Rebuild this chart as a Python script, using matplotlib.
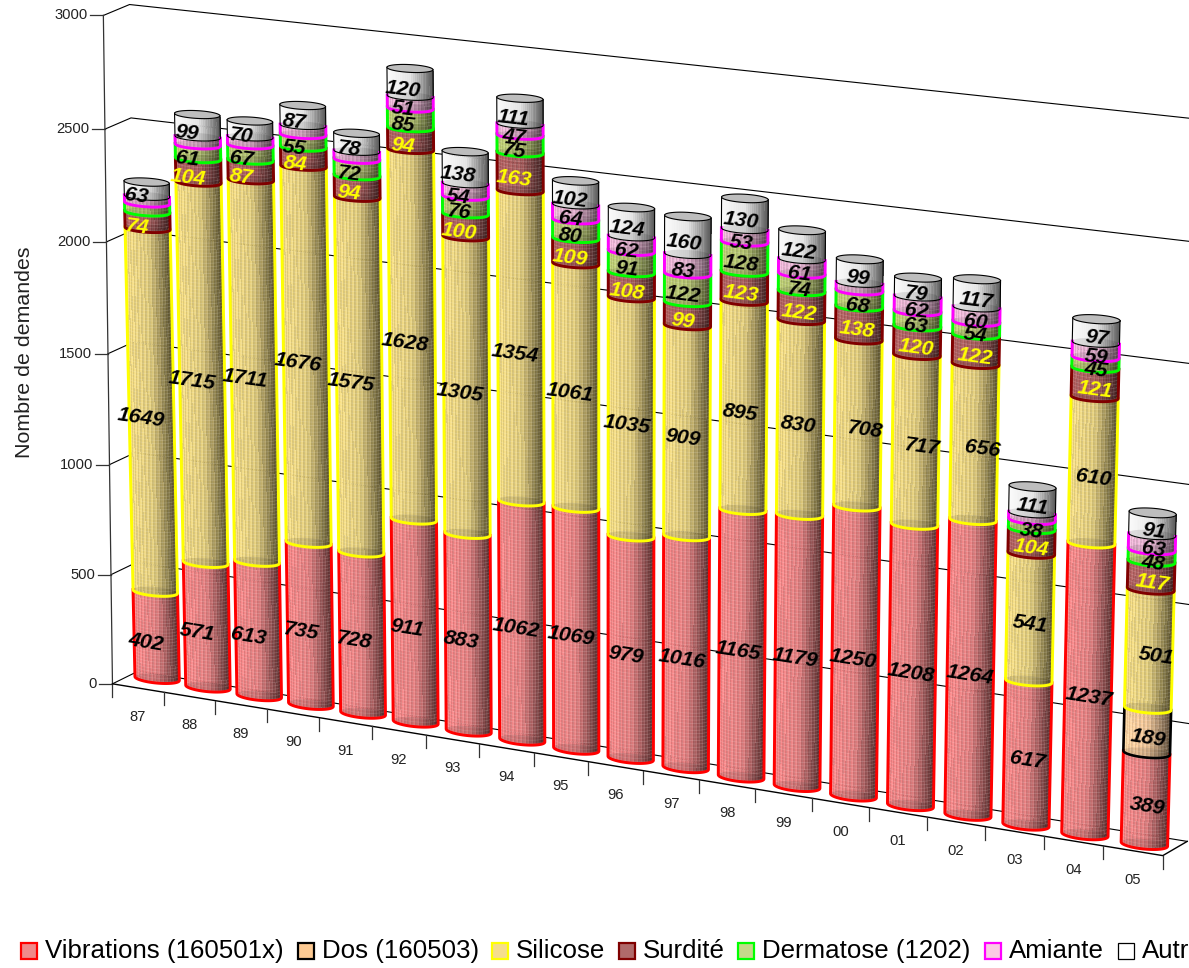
import numpy as np
import matplotlib
matplotlib.use("Agg")
import matplotlib.pyplot as plt
from matplotlib.collections import PolyCollection, LineCollection
from matplotlib.patches import Polygon, Rectangle

plt.rcParams['font.family'] = ['Liberation Sans', 'DejaVu Sans']

# data, bottom of the stack first
years = ["87", "88", "89", "90", "91", "92", "93", "94", "95", "96",
         "97", "98", "99", "00", "01", "02", "03", "04", "05"]
vibrations = [402, 571, 613, 735, 728, 911, 883, 1062, 1069, 979,
              1016, 1165, 1179, 1250, 1208, 1264, 617, 1237, 389]
dos = [0, 0, 0, 0, 0, 0, 0, 0, 0, 0, 0, 0, 0, 0, 0, 0, 0, 0, 189]
silicose = [1649, 1715, 1711, 1676, 1575, 1628, 1305, 1354, 1061, 1035,
            909, 895, 830, 708, 717, 656, 541, 610, 501]
surdite = [74, 104, 87, 84, 94, 94, 100, 163, 109, 108,
           99, 123, 122, 138, 120, 122, 104, 121, 117]
dermatose = [40, 61, 67, 55, 72, 85, 76, 75, 80, 91,
             122, 128, 74, 68, 63, 54, 38, 45, 48]
amiante = [30, 35, 35, 40, 35, 51, 54, 47, 64, 62,
           83, 53, 61, 32, 62, 60, 28, 59, 63]
autres = [63, 99, 70, 87, 78, 120, 138, 111, 102, 124,
          160, 130, 122, 99, 79, 117, 111, 97, 91]

names = ["Vibrations (160501x)", "Dos (160503)", "Silicose", "Surdité",
         "Dermatose (1202)", "Amiante", "Autres"]
stacks = [vibrations, dos, silicose, surdite, dermatose, amiante, autres]
# bars where the chart prints no value for the band
no_label = {(0, 4), (0, 5), (1, 5), (2, 5), (3, 5), (4, 5), (13, 5), (16, 5)}
# a few labels sit further right in the original
label_nudge = {(13, 2): 9, (14, 2): 8, (15, 2): 9, (18, 2): 6}

edge_col = ["#ff0000", "#000000", "#ffff00", "#800000", "#00ff00", "#ff00ff", "#000000"]
fill_col = ["#e87f80", "#f4c898", "#e6d07c", "#a85a5a", "#b4c46e", "#e6b0d0", "#f2f2f2"]
swatch_col = ["#f08a8a", "#fdca93", "#f5dd8c", "#b06a6a", "#c6d98a", "#fbcbe4", "#ffffff"]
text_col = ["black", "black", "black", "#ffff00", "black", "black", "black"]
edge_w = [2.1, 1.9, 2.1, 2.1, 2.1, 2.1, 0.8]
weave = [0.065, 0.065, 0.065, 0.065, 0.065, 0.065, 0.0]
legend_x = [21, 298, 492, 619, 738, 985, 1118]

yticks = [0, 500, 1000, 1500, 2000, 2500, 3000]

# camera: (category, depth, value) -> pixel, fitted on the corners of the box
world = np.array([(0, 0, 0), (19, 0, 0), (0, 1, 0), (19, 1, 0), (0, 0, 3000),
                  (0, 1, 3000), (19, 1, 3000), (1, 0, 0), (18, 0, 0)], float)
pixel = np.array([(115, 683), (1162, 857), (134, 673), (1188, 839), (100, 15),
                  (133, 5), (1206, 120), (165, 691), (1103, 847)], float)
A = []
for (a, b, c), (px, py) in zip(world, pixel):
    A.append([a, b, c, 1, 0, 0, 0, 0, -px * a, -px * b, -px * c, -px])
    A.append([0, 0, 0, 0, a, b, c, 1, -py * a, -py * b, -py * c, -py])
P = np.linalg.svd(np.array(A))[2][-1].reshape(3, 4)


def project(u, d, v):
    u, d, v = np.broadcast_arrays(u, d, v)
    q = P @ np.stack([u, d, v, np.ones_like(u, dtype=float)]).astype(float).reshape(4, -1)
    return np.column_stack([q[0] / q[2], q[1] / q[2]])


RD = 0.29
DEPTH_L, DEPTH_R = 0.75, 0.47
N_STRIP = 36


def radius_u(uc):
    return 0.41 - 0.04 * (uc - 0.5) / 18


def bar_warp(uc, v):
    # the bars lean and scale a little differently from the walls
    i = uc - 0.5
    dx = -0.002 * (1 - i / 17) * v
    dy = 0.0016 * max(1 - i / 13, 0) * v
    return np.column_stack([dx * np.ones_like(np.atleast_1d(v), dtype=float),
                            dy * np.ones_like(np.atleast_1d(v), dtype=float)])


def shade(hexcol, f):
    rgb = np.array(matplotlib.colors.to_rgb(hexcol))
    return tuple(np.clip(rgb * f, 0, 1))


def arc_angles(uc, dc, v):
    # angles of the visible front of the cylinder
    o = project(uc, dc, v)[0]
    du = project(uc + 1, dc, v)[0] - o
    dd = project(uc, dc + 1, v)[0] - o
    t_r = np.arctan2(RD * dd[0], radius_u(uc) * du[0])
    return np.linspace(t_r + np.pi, t_r + 2 * np.pi, N_STRIP + 1)


def rim(uc, dc, v, t):
    return project(uc + radius_u(uc) * np.cos(t), dc + RD * np.sin(t), v) + bar_warp(uc, v)


def draw_segment(ax, uc, dc, v0, v1, s):
    t = arc_angles(uc, dc, v0)
    low = rim(uc, dc, v0, t)
    high = rim(uc, dc, v1, t)
    polys, cols = [], []
    for k in range(N_STRIP):
        polys.append([low[k], low[k + 1], high[k + 1], high[k]])
        x = (low[k, 0] - low[0, 0]) / (low[-1, 0] - low[0, 0])
        f = 1.04 - 0.2 * x - 0.48 * max(x - 0.5, 0) / 0.5
        f *= 1 + weave[s] if k % 2 else 1 - weave[s]
        cols.append(shade(fill_col[s], f))
    ax.add_collection(PolyCollection(polys, facecolors=cols, linewidths=0,
                                     antialiased=False, alpha=0.93, zorder=3))
    # fine horizontal weave
    rows = np.arange(v0 + 7, v1, 15.0)
    if len(rows) and weave[s] > 0:
        lines = [rim(uc, dc, r, t) for r in rows]
        ax.add_collection(LineCollection(lines, colors="white", linewidths=0.6,
                                         alpha=0.16, zorder=3))
    # base of the band seen through the weave
    tt = np.linspace(0, 2 * np.pi, 60)
    ax.add_patch(Polygon(rim(uc, dc, v0, tt), closed=True, facecolor="black",
                         edgecolor="none", alpha=0.10, zorder=3))
    outline = np.vstack([high[:1], low, high[-1:]])
    ax.plot(outline[:, 0], outline[:, 1], color=edge_col[s], lw=edge_w[s],
            solid_joinstyle="round", zorder=4)


fig = plt.figure(figsize=(11.89, 9.68), dpi=100)
ax = fig.add_axes([0, 0, 1, 1])
ax.set_xlim(0, 1189)
ax.set_ylim(968, 0)
ax.axis("off")

# walls and floor
for v in yticks:
    c = project([0, 0, 19], [0, 1, 1], v)
    tick = c[0]
    ax.plot(c[:, 0], c[:, 1], color="black", lw=0.8, zorder=1)
    ax.plot([tick[0] - 13, tick[0]], [tick[1], tick[1]], color="#333333", lw=0.9, zorder=1)
    ax.text(tick[0] - 16, tick[1], str(v), ha="right", va="center", fontsize=10.6, color="#222222")
edge = project([0, 0], [0, 0], [0, 3000])
ax.plot(edge[:, 0], edge[:, 1], color="#333333", lw=0.9, zorder=1)
ax.plot([edge[0, 0], edge[0, 0]], [edge[0, 1], edge[0, 1] + 13], color="#333333", lw=0.9, zorder=1)
floor = project([0, 19, 19], [0, 0, 1], 0)
ax.plot(floor[:, 0], floor[:, 1], color="black", lw=1.0, zorder=5)
for i, y in enumerate(years):
    b = project(i + 1, 0, 0)[0]
    ax.plot([b[0], b[0]], [b[1], b[1] + 13], color="#333333", lw=0.9, zorder=5)
    m = project(i + 0.5, 0, 0)[0]
    ax.text(m[0], m[1] + 29, y, ha="center", va="center", fontsize=10.6, color="#222222")

ax.text(25, 352, "Nombre de demandes", rotation=90, ha="center", va="center",
        fontsize=15.4, color="#222222")

# bars
for i in range(len(years)):
    uc = i + 0.5
    dc = DEPTH_L + (DEPTH_R - DEPTH_L) * min(i / 16, 1)
    base = 0
    for s, vals in enumerate(stacks):
        val = vals[i]
        if val == 0:
            continue
        draw_segment(ax, uc, dc, base, base + val, s)
        if (i, s) not in no_label:
            mid = base + val / 2
            front = project(uc - 0.06, dc - RD, mid)[0] + bar_warp(uc, mid)[0]
            nxt = project(uc + 0.94, dc - RD, mid)[0] + bar_warp(uc, mid)[0]
            ang = -np.degrees(np.arctan2(nxt[1] - front[1], nxt[0] - front[0]))
            lx = front[0] + 0.67 * i + label_nudge.get((i, s), 0)
            ax.text(lx, front[1] + 4, str(val), ha="center", va="center", rotation=ang,
                    rotation_mode="anchor", fontsize=15.4, fontweight="bold",
                    fontstyle="italic", color=text_col[s], zorder=8)
        base += val
    tt = np.linspace(0, 2 * np.pi, 60)
    ax.add_patch(Polygon(rim(uc, dc, base, tt), closed=True, facecolor="#bdbdbd",
                         edgecolor="black", lw=0.8, zorder=5))

# legend
for s, name in enumerate(names):
    x = legend_x[s]
    ax.add_patch(Rectangle((x, 943), 16, 16, facecolor=swatch_col[s], edgecolor=edge_col[s],
                           lw=1.6 if s < 6 else 0.9, zorder=6))
    ax.text(x + 24, 951, name, ha="left", va="center", fontsize=18.6, color="black")

fig.savefig("out.png", dpi=100)
